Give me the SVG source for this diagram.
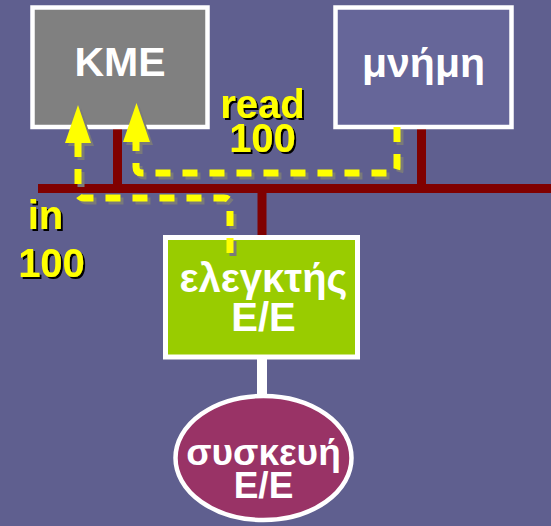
<svg xmlns="http://www.w3.org/2000/svg" xmlns:xlink="http://www.w3.org/1999/xlink" width="551" height="526" viewBox="0 0 551 526">
<style>
.bus{stroke:#800000;stroke-width:9;fill:none}
.box{stroke:#ffffff;stroke-width:4.5}
.nt{font-family:"Liberation Sans",Arial,sans-serif;font-weight:bold;fill:#ffffff;text-anchor:middle}
.lbl{font-family:"Liberation Sans",Arial,sans-serif;font-weight:bold;font-size:40px;text-anchor:middle;fill:#ffff00;filter:url(#tsh)}
.flow{fill:none;stroke:#ffff00;stroke-width:7;stroke-dasharray:15 12}
.flowsh{fill:none;stroke:#7a7a7a;stroke-width:7;stroke-dasharray:15 12}
.head{fill:#ffff00}
.headsh{fill:#7a7a7a}
</style>
<defs>
<filter id="tsh" x="-10%" y="-10%" width="130%" height="130%">
<feDropShadow dx="2" dy="2" stdDeviation="0" flood-color="#000000" flood-opacity="1"/>
</filter>
<path id="p1" d="M230,253 V204 Q230,198 224,198 H84 Q78,198 78,192 V143"/>
<path id="p2" d="M397,127 V167 Q397,173 391,173 H142 Q136,173 136,167 V142"/>
<polygon id="h1" points="78,105 91,143 65,143"/>
<polygon id="h2" points="136.5,103 150,142 123,142"/>
</defs>
<rect x="0" y="0" width="551" height="526" fill="#5f5f8f"/>
<g id="connectors">
<line class="bus" x1="38" y1="188.5" x2="551" y2="188.5"/>
<line class="bus" x1="117.5" y1="127" x2="117.5" y2="189"/>
<line class="bus" x1="421.5" y1="127" x2="421.5" y2="189"/>
<line class="bus" x1="262" y1="188" x2="262" y2="237"/>
<line x1="262" y1="357" x2="262" y2="398" stroke="#ffffff" stroke-width="10"/>
</g>
<g id="cpu">
<rect class="box" x="32.5" y="7.5" width="175" height="119.5" fill="#808080"/>
<text class="nt" x="120" y="76" font-size="41">KME</text>
</g>
<g id="memory">
<rect class="box" x="335.5" y="7.5" width="176" height="119.5" fill="#666699"/>
<text class="nt" x="423.5" y="77" font-size="41">μνήμη</text>
</g>
<g id="controller">
<rect x="165.5" y="237.5" width="192" height="119.5" fill="#99cc00" stroke="#ffffff" stroke-width="5"/>
<text class="nt" x="263.5" y="292" font-size="40">ελεγκτής</text>
<text class="nt" x="263.5" y="331" font-size="40">Ε/Ε</text>
</g>
<g id="device">
<ellipse cx="263.5" cy="458" rx="88" ry="62" fill="#993366" stroke="#ffffff" stroke-width="4.5"/>
<text class="nt" x="263.5" y="465" font-size="37">συσκευή</text>
<text class="nt" x="263.5" y="498" font-size="37">Ε/Ε</text>
</g>
<g id="flows">
<use xlink:href="#p1" class="flowsh" transform="translate(3,3)"/>
<use xlink:href="#p2" class="flowsh" transform="translate(3,3)"/>
<use xlink:href="#h1" class="headsh" transform="translate(3,3)"/>
<use xlink:href="#h2" class="headsh" transform="translate(3,3)"/>
<use xlink:href="#p1" class="flow"/>
<use xlink:href="#p2" class="flow"/>
<use xlink:href="#h1" class="head"/>
<use xlink:href="#h2" class="head"/>
</g>
<g id="labels">
<text class="lbl" x="262.5" y="118">read</text>
<text class="lbl" x="262.5" y="151.5">100</text>
<text class="lbl" x="45.5" y="229">in</text>
<text class="lbl" x="51.5" y="276.5">100</text>
</g>
</svg>
